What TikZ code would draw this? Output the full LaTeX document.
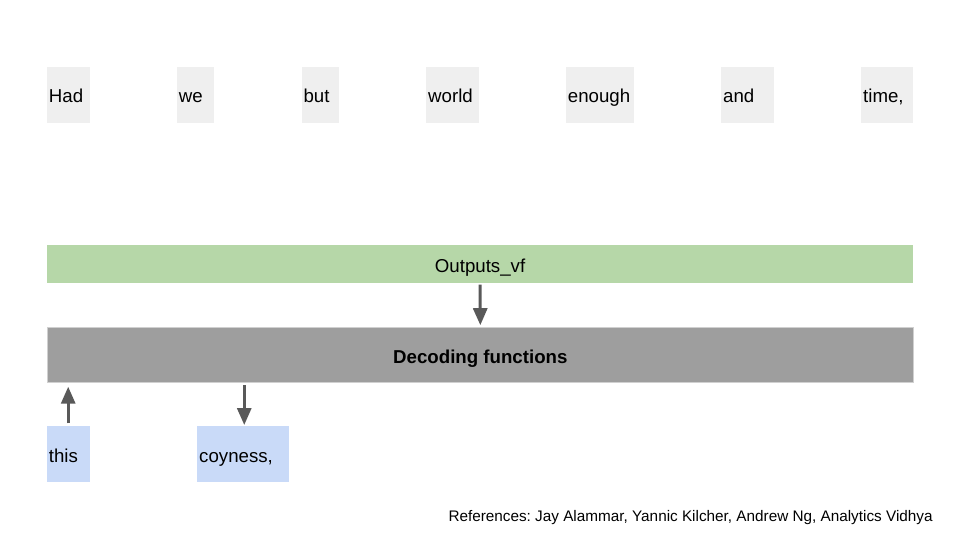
\documentclass[tikz,border=0pt]{standalone}
\usepackage{fontspec}
\setmainfont{Liberation Sans}
\usetikzlibrary{arrows.meta}
\frenchspacing

\definecolor{wordgray}{HTML}{EFEFEF}
\definecolor{outgreen}{HTML}{B6D7A8}
\definecolor{decgray}{HTML}{9E9E9E}
\definecolor{decedge}{HTML}{D0D0D0}
\definecolor{inblue}{HTML}{C9DAF8}
\definecolor{arrowgray}{HTML}{595959}

\tikzset{
  box/.style={anchor=north west, inner xsep=2pt, inner ysep=0pt, text height=16pt, text depth=0pt, font=\fontsize{18.67}{20}\selectfont},
  word/.style={box, fill=wordgray, align=left, minimum height=56pt},
  inword/.style={box, fill=inblue, align=left, minimum height=55.7pt},
  bar/.style={box, minimum width=866.3pt},
  flow/.style={draw=arrowgray, line width=3pt, -{Triangle[width=14pt, length=17pt]}}
}

\begin{document}
\begin{tikzpicture}[x=1pt, y=-1pt]
		\useasboundingbox (0, 0) rectangle (960, 540);
		
		\node [word, text width=38.6pt] (had) at (46.7, 66.7) {Had}; % Ordrutor
		\node [word, text width=33pt] (we) at (176.7, 66.7) {we};
		\node [word, text width=33pt] (but) at (301.3, 66.7) {but};
		\node [word, text width=48.3pt] (world) at (426, 66.7) {world};
		\node [word, text width=64pt] (enough) at (565.7, 66.7) {enough};
		\node [word, text width=48.3pt] (and) at (721, 66.7) {and};
		\node [word, text width=48pt] (time) at (861, 66.7) {time,};
		
		\node [bar, fill=outgreen, minimum height=37.7pt] (out) at (46.7, 245) {Outputs\_vf}; % Utdata
		\node [bar, fill=decgray, draw=decedge, line width=1pt, minimum height=55.6pt] (dec) at (46.7, 326.7) {\bfseries Decoding functions}; % Avkodning
		
		\node [inword, text width=38.6pt] (this) at (46.7, 426) {this}; % Indata
		\node [inword, text width=87.7pt] (coy) at (197, 426) {coyness,};
		
		\draw [flow, shorten <=1.5pt, shorten >=1.5pt] (out.south) -- (dec.north); % Pilar
		\draw [flow, shorten <=2.7pt, shorten >=3.4pt] (this.north) -- (this.north |- dec.south);
		\draw [flow, shorten <=1.7pt, shorten >=1pt] ([xshift=1.2pt]coy.north |- dec.south) -- ([xshift=1.2pt]coy.north);
		
		\node [anchor=base west, inner sep=0pt, font=\fontsize{15.3}{17}\selectfont] (refs) at (448.3, 521.7) {References: Jay Alammar, Yannic Kilcher, Andrew Ng, Analytics Vidhya};
	\end{tikzpicture}
\end{document}
